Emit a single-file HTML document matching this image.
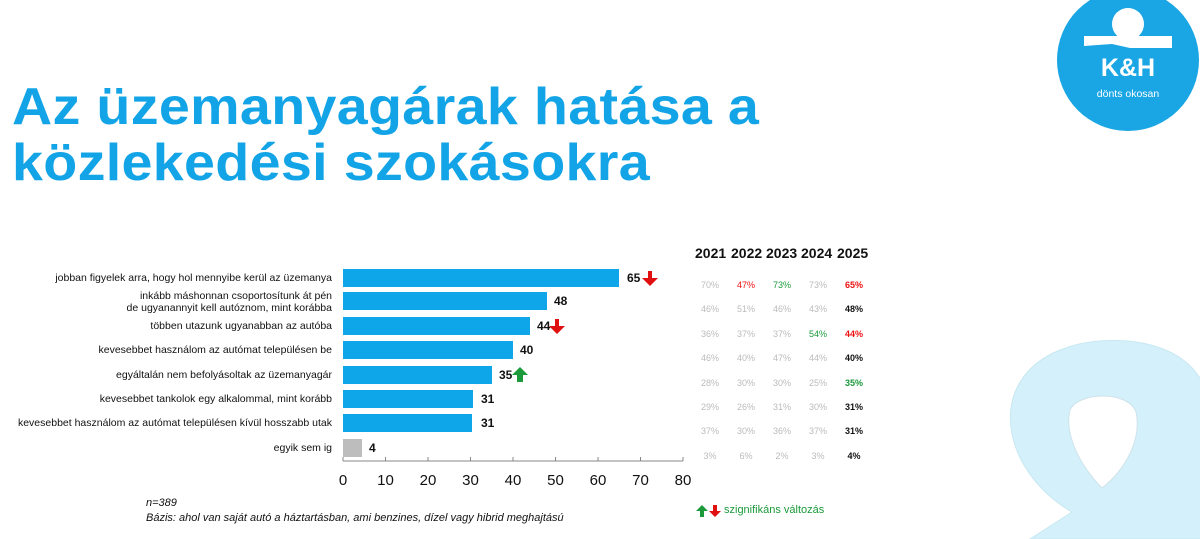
<!DOCTYPE html>
<html><head><meta charset="utf-8"><style>
body{margin:0;width:1200px;height:539px;overflow:hidden;background:#fff;font-family:"Liberation Sans",sans-serif;position:relative}
.t{position:absolute;white-space:nowrap}
.title{left:12px;color:#12a4e6;font-weight:bold;font-size:52px;letter-spacing:0.3px;transform:scaleX(1.07);transform-origin:left top}
.lab{right:868px;font-size:10.5px;color:#111;text-align:right;line-height:12px}
.bar{position:absolute;left:343px;height:18px;background:#0ea5e9}
.val{font-size:12px;font-weight:bold;color:#111}
.yr{font-size:14px;font-weight:bold;top:245px;color:#111}
.c{font-size:9px;color:#bbb;width:36px;text-align:center}
.r{color:#e11}.g{color:#1a9a3a}.b{color:#111;font-weight:bold}
</style></head><body>
<svg width="1200" height="539" style="position:absolute;left:0;top:0">
<path d="M1030 539 L1072 512 C1000 470 985 380 1060 350 C1110 330 1190 340 1205 390 L1205 539 Z" fill="#d4f0fa" stroke="#c8e8f2"/>
<path d="M1102 488 C1075 460 1065 430 1070 410 C1078 392 1128 390 1136 412 C1142 440 1125 470 1102 488 Z" fill="#fff" stroke="#cfe3ea"/>
<circle cx="1128" cy="60" r="71" fill="#1aa6e4"/>
<circle cx="1128" cy="24" r="16" fill="#fff"/>
<path d="M1084 36 L1172 36 L1172 48 L1130 48 L1112 44 L1084 46 Z" fill="#fff"/>
<text x="1128" y="76" font-family="Liberation Sans" font-weight="bold" font-size="25" fill="#fff" text-anchor="middle">K&amp;H</text>
<text x="1128" y="97" font-family="Liberation Sans" font-size="10.5" fill="#fff" text-anchor="middle">dönts okosan</text>
<line x1="343" y1="461" x2="683" y2="461" stroke="#888"/>
<g stroke="#888">
<line x1="343" y1="457" x2="343" y2="461"/><line x1="385.5" y1="457" x2="385.5" y2="461"/><line x1="428" y1="457" x2="428" y2="461"/><line x1="470.5" y1="457" x2="470.5" y2="461"/><line x1="513" y1="457" x2="513" y2="461"/><line x1="555.5" y1="457" x2="555.5" y2="461"/><line x1="598" y1="457" x2="598" y2="461"/><line x1="640.5" y1="457" x2="640.5" y2="461"/><line x1="683" y1="457" x2="683" y2="461"/>
</g>
<g font-family="Liberation Sans" font-size="15" fill="#111" text-anchor="middle">
<text x="343" y="485">0</text><text x="385.5" y="485">10</text><text x="428" y="485">20</text><text x="470.5" y="485">30</text><text x="513" y="485">40</text><text x="555.5" y="485">50</text><text x="598" y="485">60</text><text x="640.5" y="485">70</text><text x="683" y="485">80</text>
</g>
<g>
<path d="M642 278 h6 v-7 h4 v7 h6 l-8 8z" fill="#e01010"/>
<path d="M549 326 h6 v-7 h4 v7 h6 l-8 8z" fill="#e01010"/>
<path d="M512 375 l8 -8 l8 8 h-5 v7 h-6 v-7z" fill="#1a9a3a"/>
<path d="M696 511 l6 -6 l6 6 h-4 v6 h-4 v-6z" fill="#1a9a3a"/>
<path d="M709 511 h4 v-6 h4 v6 h4 l-6 6z" fill="#e01010"/>
</g>
</svg>
<div class="t title" style="top:77px">Az üzemanyagárak hatása a</div>
<div class="t title" style="top:133px">közlekedési szokásokra</div>

<div class="t lab" style="top:272px">jobban figyelek arra, hogy hol mennyibe kerül az üzemanya</div>
<div class="t lab" style="top:290px">inkább máshonnan csoportosítunk át pén<br>de ugyanannyit kell autóznom, mint korábba</div>
<div class="t lab" style="top:320px">többen utazunk ugyanabban az autóba</div>
<div class="t lab" style="top:344px">kevesebbet használom az autómat településen be</div>
<div class="t lab" style="top:369px">egyáltalán nem befolyásoltak az üzemanyagár</div>
<div class="t lab" style="top:393px">kevesebbet tankolok egy alkalommal, mint korább</div>
<div class="t lab" style="top:417px">kevesebbet használom az autómat településen kívül hosszabb utak</div>
<div class="t lab" style="top:442px">egyik sem ig</div>

<div class="bar" style="top:269px;width:276px"></div>
<div class="bar" style="top:292px;width:204px"></div>
<div class="bar" style="top:317px;width:187px"></div>
<div class="bar" style="top:341px;width:170px"></div>
<div class="bar" style="top:366px;width:149px"></div>
<div class="bar" style="top:390px;width:130px"></div>
<div class="bar" style="top:414px;width:129px"></div>
<div class="bar" style="top:439px;width:19px;background:#bdbdbd"></div>

<div class="t val" style="left:627px;top:271px">65</div>
<div class="t val" style="left:554px;top:294px">48</div>
<div class="t val" style="left:537px;top:319px">44</div>
<div class="t val" style="left:520px;top:343px">40</div>
<div class="t val" style="left:499px;top:368px">35</div>
<div class="t val" style="left:481px;top:392px">31</div>
<div class="t val" style="left:481px;top:416px">31</div>
<div class="t val" style="left:369px;top:441px">4</div>

<div class="t yr" style="left:695px">2021</div>
<div class="t yr" style="left:731px">2022</div>
<div class="t yr" style="left:766px">2023</div>
<div class="t yr" style="left:801px">2024</div>
<div class="t yr" style="left:837px">2025</div>

<div class="t" style="left:692px;top:273px;line-height:24.4px;font-size:9px">
<div style="display:flex"><span class="c">70%</span><span class="c r">47%</span><span class="c g">73%</span><span class="c">73%</span><span class="c b" style="color:#e11">65%</span></div>
<div style="display:flex"><span class="c">46%</span><span class="c">51%</span><span class="c">46%</span><span class="c">43%</span><span class="c b">48%</span></div>
<div style="display:flex"><span class="c">36%</span><span class="c">37%</span><span class="c">37%</span><span class="c g">54%</span><span class="c b" style="color:#e11">44%</span></div>
<div style="display:flex"><span class="c">46%</span><span class="c">40%</span><span class="c">47%</span><span class="c">44%</span><span class="c b">40%</span></div>
<div style="display:flex"><span class="c">28%</span><span class="c">30%</span><span class="c">30%</span><span class="c">25%</span><span class="c b" style="color:#1a9a3a">35%</span></div>
<div style="display:flex"><span class="c">29%</span><span class="c">26%</span><span class="c">31%</span><span class="c">30%</span><span class="c b">31%</span></div>
<div style="display:flex"><span class="c">37%</span><span class="c">30%</span><span class="c">36%</span><span class="c">37%</span><span class="c b">31%</span></div>
<div style="display:flex"><span class="c">3%</span><span class="c">6%</span><span class="c">2%</span><span class="c">3%</span><span class="c b">4%</span></div>
</div>

<div class="t" style="left:146px;top:497px;font-size:11px;font-style:italic;color:#111">n=389</div>
<div class="t" style="left:146px;top:512px;font-size:11px;font-style:italic;color:#111">Bázis: ahol van saját autó a háztartásban, ami benzines, dízel vagy hibrid meghajtású</div>
<div class="t" style="left:724px;top:504px;font-size:11px;color:#1a9a3a">szignifikáns változás</div>
</body></html>
